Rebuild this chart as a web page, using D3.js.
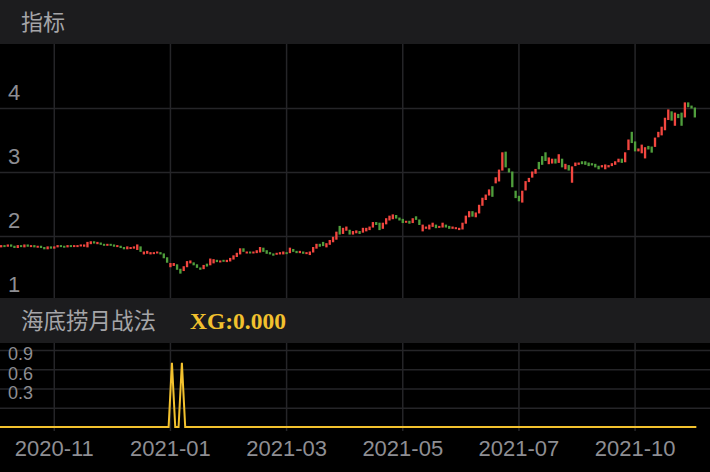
<!DOCTYPE html>
<html lang="zh-CN">
<head>
<meta charset="utf-8">
<title>海底捞月战法</title>
<style>
  body { margin: 0; background: #000; }
  svg { display: block; }
  .cn { font-family: "Noto Sans CJK SC", sans-serif; }
  .num { font-family: "Liberation Sans", Arial, sans-serif; }
</style>
<script src="https://cdn.jsdelivr.net/npm/d3@7"></script>
</head>
<body>
<svg id="chart" width="710" height="472"></svg>
<script>
// daily candles, one entry per trading day
var opens = [
  1.83,1.85,1.84,1.86,1.84,1.82,1.85,1.83,1.86,1.84,
  1.85,1.83,1.84,1.82,1.80,1.83,1.81,1.83,1.85,1.84,
  1.83,1.85,1.84,1.85,1.85,1.84,1.83,1.88,1.91,1.88,
  1.89,1.87,1.86,1.87,1.86,1.84,1.84,1.82,1.80,1.81,
  1.81,1.79,1.83,1.72,1.73,1.72,1.73,1.74,1.74,1.72,
  1.66,1.52,1.54,1.55,1.48,1.46,1.52,1.58,1.58,1.55,
  1.50,1.49,1.56,1.55,1.58,1.62,1.60,1.62,1.60,1.61,
  1.64,1.68,1.72,1.80,1.74,1.75,1.74,1.74,1.75,1.81,
  1.77,1.74,1.72,1.72,1.72,1.72,1.74,1.74,1.79,1.76,
  1.74,1.75,1.73,1.71,1.75,1.81,1.87,1.90,1.83,1.87,
  1.91,1.95,2.15,2.04,2.09,2.09,2.03,2.05,2.07,2.06,
  2.08,2.10,2.14,2.21,2.20,2.12,2.19,2.25,2.27,2.32,
  2.28,2.26,2.22,2.23,2.21,2.30,2.25,2.08,2.12,2.11,
  2.15,2.17,2.14,2.14,2.17,2.15,2.12,2.12,2.10,2.11,
  2.20,2.30,2.38,2.30,2.36,2.48,2.57,2.64,2.77,2.83,
  2.86,3.03,3.31,3.05,3.00,2.70,2.62,2.53,2.72,2.85,
  2.92,2.98,3.15,3.24,3.30,3.13,3.14,3.20,3.15,3.20,
  3.05,3.10,2.84,3.10,3.12,3.16,3.16,3.14,3.13,3.12,
  3.09,3.08,3.05,3.08,3.10,3.12,3.16,3.20,3.16,3.35,
  3.62,3.47,3.33,3.30,3.22,3.40,3.39,3.40,3.55,3.58,
  3.66,3.82,3.94,3.73,3.90,3.92,3.86,4.08,4.03,4.00
];
var closes = [
  1.85,1.84,1.86,1.84,1.82,1.85,1.84,1.86,1.84,1.85,
  1.83,1.84,1.82,1.80,1.83,1.81,1.83,1.85,1.84,1.83,
  1.85,1.84,1.85,1.85,1.86,1.86,1.90,1.91,1.89,1.90,
  1.87,1.86,1.87,1.86,1.84,1.85,1.82,1.80,1.83,1.82,
  1.83,1.86,1.76,1.75,1.76,1.74,1.74,1.75,1.72,1.66,
  1.59,1.57,1.57,1.48,1.42,1.52,1.60,1.61,1.55,1.51,
  1.48,1.54,1.53,1.64,1.63,1.60,1.61,1.61,1.62,1.65,
  1.69,1.73,1.80,1.76,1.75,1.74,1.75,1.77,1.82,1.76,
  1.73,1.72,1.70,1.73,1.74,1.75,1.73,1.81,1.76,1.74,
  1.76,1.73,1.74,1.75,1.82,1.87,1.84,1.85,1.88,1.93,
  1.98,2.06,2.03,2.12,2.14,2.03,2.07,2.08,2.04,2.12,
  2.12,2.14,2.21,2.18,2.10,2.20,2.27,2.31,2.33,2.28,
  2.25,2.21,2.23,2.20,2.27,2.26,2.18,2.17,2.14,2.17,
  2.20,2.13,2.15,2.20,2.14,2.12,2.14,2.13,2.12,2.20,
  2.31,2.38,2.31,2.36,2.48,2.59,2.64,2.72,2.62,2.91,
  3.03,3.30,3.08,3.00,2.77,2.60,2.55,2.70,2.85,2.90,
  3.00,3.04,3.05,3.12,3.18,3.22,3.20,3.14,3.27,3.08,
  3.12,3.03,3.08,3.14,3.14,3.13,3.12,3.10,3.11,3.08,
  3.05,3.10,3.11,3.10,3.13,3.16,3.20,3.15,3.30,3.50,
  3.46,3.33,3.36,3.42,3.38,3.36,3.31,3.53,3.62,3.70,
  3.84,3.97,3.81,3.92,3.85,3.73,4.08,4.02,4.00,3.86
];
// date labels and the candle they sit on
var tickIndex = [16, 51, 86, 121, 156, 191];
var tickLabels = ["2020-11", "2021-01", "2021-03", "2021-05", "2021-07", "2021-10"];
// days where the XG signal fired
var xgSignals = [51, 54];
var priceTicks = [1, 2, 3, 4];
var xgTicks = [0.3, 0.6, 0.9];

var W = 710;
var svg = d3.select("#chart");
var n = closes.length;

var x = d3.scaleBand().domain(d3.range(n)).range([0, 696]).paddingInner(0.3);
var cx = function(i) { return x(i) + x.bandwidth() / 2; };
var yMain = d3.scaleLinear().domain([1, 5]).range([300, 44]);
var yXg = d3.scaleLinear().domain([0, 1.2]).range([427, 350]);

var grid = "#252528";

// header bars
svg.append("rect").attr("x", 0).attr("y", 0).attr("width", W).attr("height", 44).attr("fill", "#1c1c1e");
svg.append("rect").attr("x", 0).attr("y", 298).attr("width", W).attr("height", 45).attr("fill", "#1c1c1e");

svg.append("text").attr("class", "cn").attr("x", 21).attr("y", 30)
  .attr("font-size", 22).attr("fill", "#a5a5a8").text("指标");
svg.append("text").attr("class", "cn").attr("x", 21).attr("y", 329)
  .attr("font-size", 22.5).attr("fill", "#a5a5a8").text("海底捞月战法");
svg.append("text").attr("x", 190).attr("y", 329)
  .attr("font-family", "'Liberation Serif', 'Times New Roman', serif")
  .attr("font-weight", "bold").attr("font-size", 23.5).attr("fill", "#f2c12e")
  .text("XG:0.000");

// main panel grid
var main = svg.append("g");
main.append("g").attr("transform", "translate(0,298)")
  .call(d3.axisBottom(x).tickValues(tickIndex).tickSize(-254).tickFormat(""))
  .call(function(g) { g.select(".domain").remove(); g.selectAll("line").attr("stroke", grid).attr("stroke-width", 1.5); });
main.append("g")
  .call(d3.axisRight(yMain).tickValues([2, 3, 4]).tickSize(W).tickFormat(""))
  .call(function(g) { g.select(".domain").remove(); g.selectAll("line").attr("stroke", grid).attr("stroke-width", 1.5); });

main.selectAll(".plabel").data(priceTicks).enter().append("text")
  .attr("class", "num").attr("x", 8).attr("y", function(d) { return yMain(d) - 8; })
  .attr("font-size", 22).attr("fill", "#8e8e93").text(function(d) { return d; });

// candles
var bw = x.bandwidth();
main.selectAll(".candle").data(d3.range(n)).enter().append("rect")
  .attr("x", function(i) { return x(i); })
  .attr("width", bw)
  .attr("y", function(i) { return yMain(Math.max(opens[i], closes[i])) - 0.5; })
  .attr("height", function(i) { return Math.max(2, Math.abs(yMain(opens[i]) - yMain(closes[i])) + 1); })
  .attr("fill", function(i) { return closes[i] >= opens[i] ? "#f2463f" : "#4f9e3c"; });

// XG panel
var sub = svg.append("g");
sub.append("g").attr("transform", "translate(0,431)")
  .call(d3.axisBottom(x).tickValues(tickIndex).tickSize(-88).tickFormat(""))
  .call(function(g) { g.select(".domain").remove(); g.selectAll("line").attr("stroke", grid).attr("stroke-width", 1.5); });
sub.append("g")
  .call(d3.axisRight(yXg).tickValues([0.3, 0.6, 0.9, 1.2]).tickSize(W).tickFormat(""))
  .call(function(g) { g.select(".domain").remove(); g.selectAll("line").attr("stroke", grid).attr("stroke-width", 1.5); });

sub.selectAll(".xlabel").data(xgTicks).enter().append("text")
  .attr("class", "num").attr("x", 8).attr("y", function(d) { return yXg(d) - 9; })
  .attr("font-size", 18).attr("fill", "#8e8e93").text(function(d) { return d3.format(".1f")(d); });

var xg = d3.range(n).map(function(i) { return xgSignals.indexOf(i) >= 0 ? 1 : 0; });
sub.append("path").datum(xg)
  .attr("fill", "none").attr("stroke", "#f2c12e").attr("stroke-width", 2)
  .attr("d", d3.line().x(function(d, i) { return i === 0 ? 0 : cx(i) + 1.5; }).y(function(d) { return yXg(d); }));

// date axis
svg.append("g").attr("transform", "translate(0,432)")
  .call(d3.axisBottom(x).tickValues(tickIndex).tickSize(0).tickPadding(8)
    .tickFormat(function(d) { return tickLabels[tickIndex.indexOf(d)]; }))
  .call(function(g) {
    g.select(".domain").remove();
    g.selectAll("text").attr("class", "num").attr("font-size", 22).attr("fill", "#8e8e93")
      .attr("dy", "0.71em");
  });
</script>
</body>
</html>
